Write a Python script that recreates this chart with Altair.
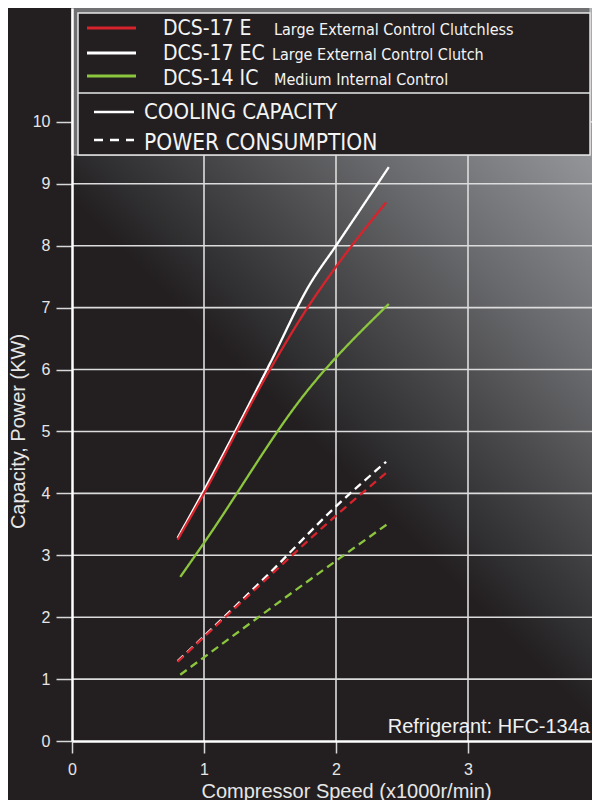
import altair as alt
import pandas as pd

# ---------------- data ----------------
series_names = ["DCS-17 EC", "DCS-17 E", "DCS-14 IC"]
series_desc = ["Large External Control Clutch", "Large External Control Clutchless", "Medium Internal Control"]
series_colors = ["#ffffff", "#d7232b", "#8cc63f"]

# cooling capacity (kW) vs compressor speed (x1000 r/min)
cool_ec_x = [0.80, 1.00, 1.50, 1.80, 2.00, 2.40]
cool_ec_y = [3.28, 4.05, 6.10, 7.37, 8.00, 9.27]
cool_e_x = [0.80, 1.00, 1.50, 1.80, 2.00, 2.38]
cool_e_y = [3.25, 4.00, 6.00, 7.05, 7.66, 8.70]
cool_ic_x = [0.82, 1.00, 1.78, 2.40]
cool_ic_y = [2.65, 3.20, 5.65, 7.06]

# power consumption (kW)
pow_ec_x = [0.80, 1.50, 2.00, 2.38]
pow_ec_y = [1.29, 2.72, 3.79, 4.51]
pow_e_x = [0.80, 1.50, 2.00, 2.38]
pow_e_y = [1.28, 2.67, 3.64, 4.33]
pow_ic_x = [0.82, 2.00, 2.40]
pow_ic_y = [1.07, 2.91, 3.52]

x_ticks = [0, 1, 2, 3, 4]
y_ticks = [0, 1, 2, 3, 4, 5, 6, 7, 8, 9, 10]
grid_x = [1, 2, 3]
grid_y = [1, 2, 3, 4, 5, 6, 7, 8, 9, 10]

kind_names = ["COOLING CAPACITY", "POWER CONSUMPTION"]

rows = []
def add(name, kind, xs, ys):
    for a, b in zip(xs, ys):
        rows.append({"series": name, "kind": kind, "speed": a, "value": b})

add("DCS-17 EC", "COOLING CAPACITY", cool_ec_x, cool_ec_y)
add("DCS-17 E", "COOLING CAPACITY", cool_e_x, cool_e_y)
add("DCS-14 IC", "COOLING CAPACITY", cool_ic_x, cool_ic_y)
add("DCS-17 EC", "POWER CONSUMPTION", pow_ec_x, pow_ec_y)
add("DCS-17 E", "POWER CONSUMPTION", pow_e_x, pow_e_y)
add("DCS-14 IC", "POWER CONSUMPTION", pow_ic_x, pow_ic_y)
df = pd.DataFrame(rows)

# ---------------- styling ----------------
W, H = 528, 733
BG = "#231f20"
AX_FONT = "Liberation Sans, Arial, Helvetica, sans-serif"
LEG_FONT = "Liberation Sans Narrow, DejaVu Sans Condensed, Roboto Condensed, sans-serif"

xscale = alt.Scale(domain=[0, 4], nice=False, zero=False)
yscale = alt.Scale(domain=[0, 11.84], nice=False)

xaxis = alt.Axis(values=x_ticks, grid=False, domainColor="#ffffff", domainWidth=2.5,
                 tickColor="#d8d8d8", tickWidth=1.5, tickSize=12,
                 labelFont=AX_FONT, labelFontSize=16, labelColor="#e6e6e6", labelPadding=8,
                 labelFlush=False, labelOverlap=False,
                 title="Compressor Speed (x1000r/min)", titleFont=AX_FONT, titleFontSize=20,
                 titleFontWeight="normal", titleColor="#e6e6e6", titleBaseline="alphabetic",
                 titleY=56, titleX=274, zindex=2)
yaxis = alt.Axis(values=y_ticks, grid=False, domainColor="#ffffff", domainWidth=2.5,
                 tickColor="#d8d8d8", tickWidth=1.5, tickSize=16,
                 labelFont=AX_FONT, labelFontSize=16, labelColor="#e6e6e6", labelPadding=6,
                 labelFlush=False, labelOverlap=False,
                 title="Capacity, Power (KW)", titleFont=AX_FONT, titleFontSize=20,
                 titleFontWeight="normal", titleColor="#e6e6e6", titleBaseline="alphabetic",
                 titleX=-48, titleY=423, zindex=2)

one = pd.DataFrame({"k": [0]})

grad = alt.Gradient(
    gradient="linear", x1=0, y1=1, x2=0.815, y2=-0.133,
    stops=[
        alt.GradientStop(offset=0.0, color=BG),
        alt.GradientStop(offset=0.43, color=BG),
        alt.GradientStop(offset=0.50, color="#333335"),
        alt.GradientStop(offset=0.58, color="#48484a"),
        alt.GradientStop(offset=0.70, color="#68696c"),
        alt.GradientStop(offset=0.82, color="#86878a"),
        alt.GradientStop(offset=0.92, color="#9ea0a3"),
        alt.GradientStop(offset=1.0, color="#adafb2"),
    ],
)

background = alt.Chart(one).mark_rect(fill=grad, strokeWidth=0).encode(
    x=alt.value(0), x2=alt.value(W), y=alt.value(0), y2=alt.value(H)
)

gx = alt.Chart(pd.DataFrame({"v": grid_x})).mark_rule(color="#dcdcdc", strokeWidth=1.6).encode(
    x=alt.X("v:Q", scale=xscale, axis=xaxis)
)
gy = alt.Chart(pd.DataFrame({"v": grid_y})).mark_rule(color="#dcdcdc", strokeWidth=1.6).encode(
    y=alt.Y("v:Q", scale=yscale, axis=yaxis)
)

lines = alt.Chart(df).mark_line(strokeWidth=2.3, interpolate="monotone").encode(
    x=alt.X("speed:Q", scale=xscale, axis=xaxis),
    y=alt.Y("value:Q", scale=yscale, axis=yaxis),
    color=alt.Color("series:N", scale=alt.Scale(domain=series_names, range=series_colors), legend=None),
    strokeDash=alt.StrokeDash("kind:N", scale=alt.Scale(domain=kind_names, range=[[1, 0], [8, 5]]), legend=None),
)

def text(label, x, y, size, font=LEG_FONT, align="left", color="#f4f4f4"):
    return alt.Chart(pd.DataFrame({"t": [label]})).mark_text(
        align=align, baseline="alphabetic", font=font, fontSize=size, color=color
    ).encode(x=alt.value(x), y=alt.value(y), text="t:N")

def hline(x1, x2, y, color, width=2.5, dash=None):
    kw = dict(color=color, strokeWidth=width)
    if dash is not None:
        kw["strokeDash"] = dash
    return alt.Chart(one).mark_rule(**kw).encode(x=alt.value(x1), x2=alt.value(x2), y=alt.value(y))

frame = alt.Chart(one).mark_rect(fill="#707072", stroke="#c4c4c4", strokeWidth=1).encode(
    x=alt.value(0), x2=alt.value(518), y=alt.value(-1), y2=alt.value(147)
)
legend_box = alt.Chart(one).mark_rect(fill=BG, stroke="#e8e8e8", strokeWidth=1.5).encode(
    x=alt.value(6), x2=alt.value(518), y=alt.value(5), y2=alt.value(147)
)
divider = hline(6, 518, 85, "#e8e8e8", width=1.5)

legend_layers = [frame, legend_box, divider]
# rows: order in the reference is E, EC, IC
row_order = [1, 0, 2]
row_y = [20, 45, 68]
row_base = [27, 52, 77]
desc_x = [202, 200, 202]
for i, idx in enumerate(row_order):
    legend_layers.append(hline(15, 64, row_y[i], series_colors[idx], width=3))
    legend_layers.append(text(series_names[idx], 91, row_base[i], 21))
    legend_layers.append(text(series_desc[idx], desc_x[i], row_base[i], 16))

legend_layers.append(hline(22, 62, 104, "#ffffff", width=2.5))
legend_layers.append(text(kind_names[0], 72, 111, 22))
legend_layers.append(hline(22, 62, 132, "#ffffff", width=2.5, dash=[9, 7]))
legend_layers.append(text(kind_names[1], 72, 142, 22.5))

refr = text("Refrigerant: HFC-134a", 518, 725, 20, font=AX_FONT, align="right", color="#f0f0f0")

chart = alt.layer(background, gx, gy, lines, *legend_layers, refr).properties(
    width=W, height=H,
    padding={"left": 64, "top": 0, "right": -8, "bottom": 59},
    autosize=alt.AutoSizeParams(type="none"),
    background=BG,
).configure_view(stroke=None)

chart.save("out.html", embed_options={"renderer": "svg", "actions": False})
